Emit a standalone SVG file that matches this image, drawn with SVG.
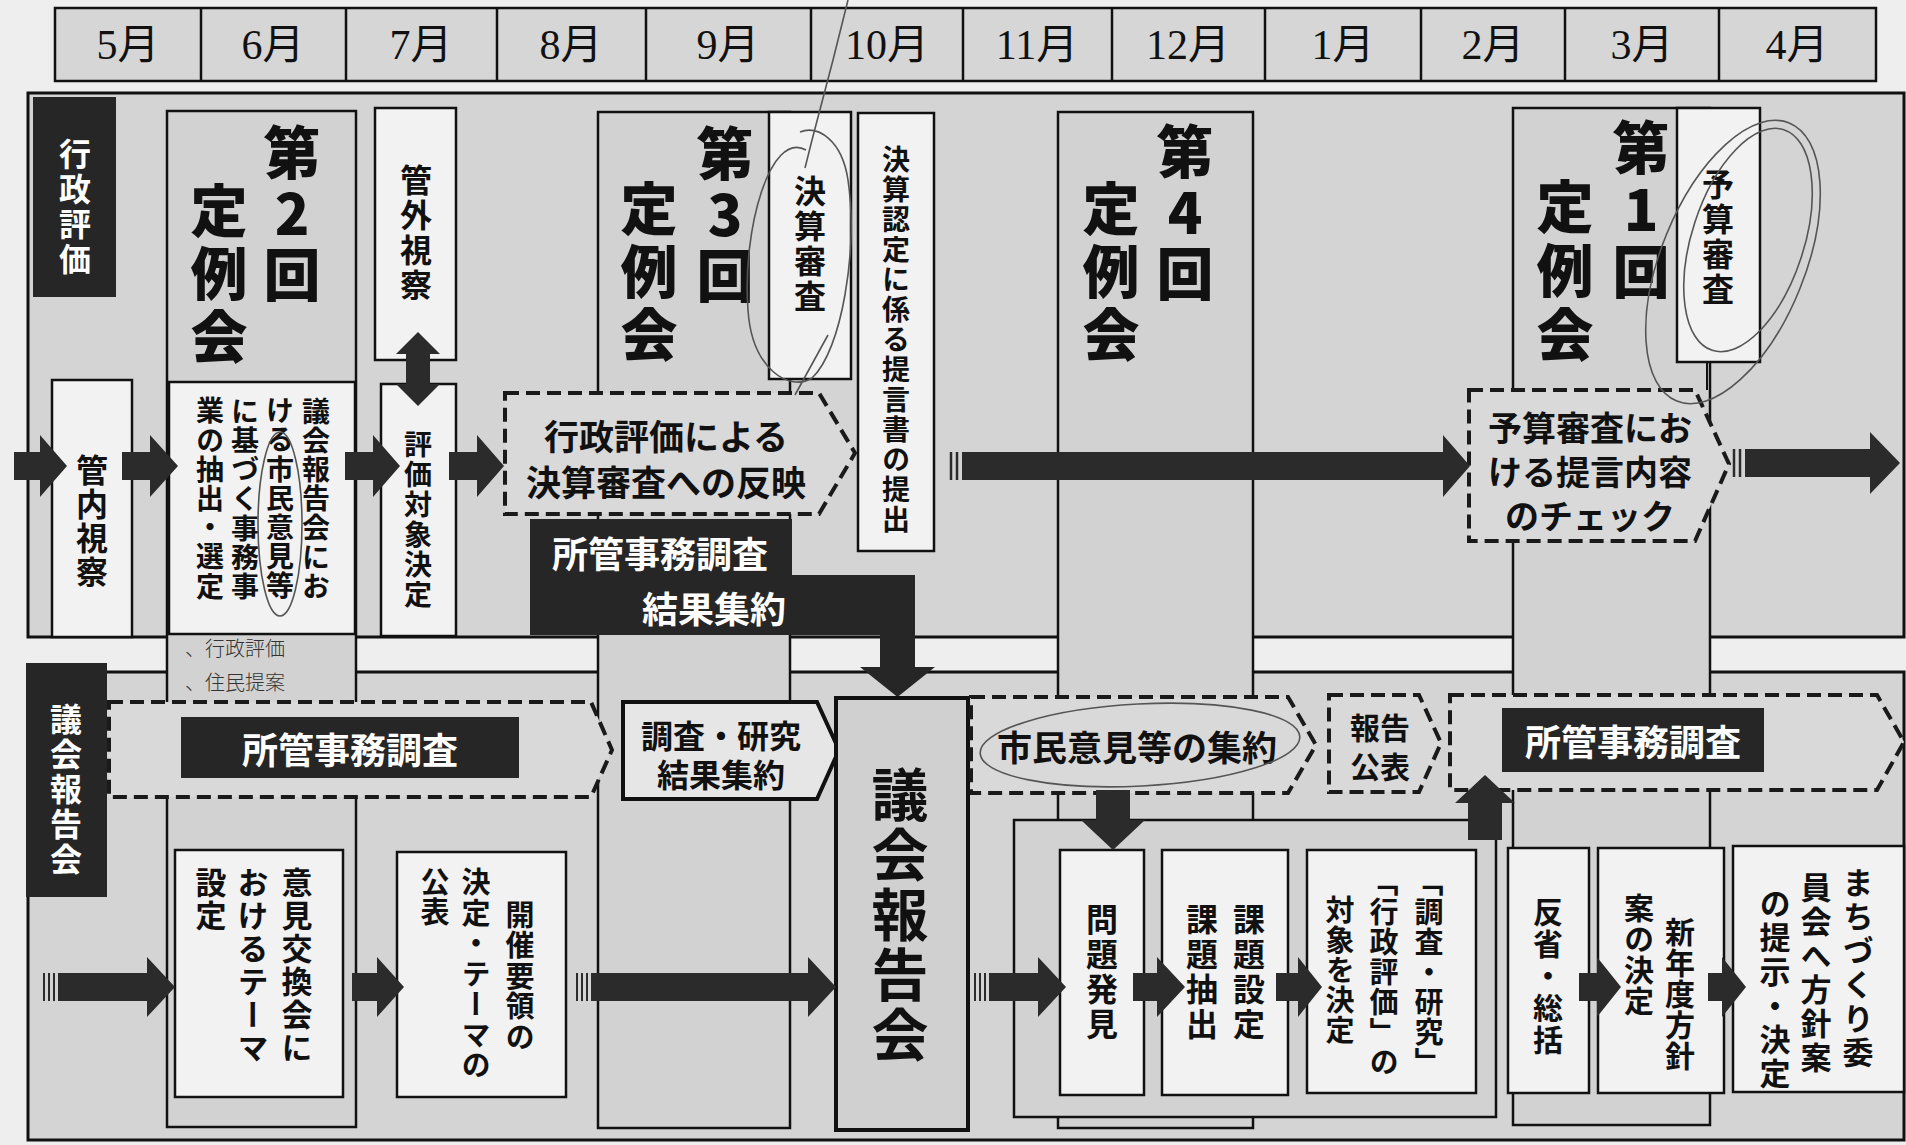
<svg xmlns="http://www.w3.org/2000/svg" width="1906" height="1145" viewBox="0 0 1906 1145">
<style>
.bg{fill:#eeeeee}
.band{fill:#d4d4d4;stroke:#111;stroke-width:3}
.col{fill:#d2d2d2;stroke:#111;stroke-width:2.5}
.box{fill:#f2f2f2;stroke:#111;stroke-width:2.5}
.cell{fill:#d6d6d6;stroke:#111;stroke-width:2.5}
.dash{fill:#d9d9d9;stroke:#1a1a1a;stroke-width:4;stroke-dasharray:14 7}
.solid{fill:#e6e6e6;stroke:#111;stroke-width:4}
.dark{fill:#262626}
.arrow{fill:#2b2b2b}
.t{font-family:"Noto Sans CJK JP","Noto Sans CJK SC",sans-serif;font-weight:700;fill:#111}
.v{writing-mode:vertical-rl}
.up{text-orientation:upright}
.w{fill:#ffffff}
.c{text-anchor:middle;dominant-baseline:central}
.h{font-size:57px;font-weight:900;letter-spacing:4px}
.month{font-family:"Liberation Serif","Noto Sans CJK JP",serif;font-size:42px;fill:#111;text-anchor:middle;dominant-baseline:central}
.pen{fill:none;stroke:#555;stroke-width:1.6}
.hand{font-family:"Noto Sans CJK JP",sans-serif;font-weight:300;font-size:20px;fill:#333}
</style>
<rect class="bg" x="0" y="0" width="1906" height="1145"/>

<g id="month-header">
<rect class="cell" x="55" y="8" width="1821" height="73"/>
<path d="M201 8V81M346 8V81M497 8V81M646 8V81M811 8V81M963 8V81M1112 8V81M1265 8V81M1421 8V81M1565 8V81M1719 8V81" stroke="#111" stroke-width="2.5"/>
<text class="month" x="128" y="45">5月</text>
<text class="month" x="273" y="45">6月</text>
<text class="month" x="421" y="45">7月</text>
<text class="month" x="571" y="45">8月</text>
<text class="month" x="728" y="45">9月</text>
<text class="month" x="887" y="45">10月</text>
<text class="month" x="1037" y="45">11月</text>
<text class="month" x="1188" y="45">12月</text>
<text class="month" x="1343" y="45">1月</text>
<text class="month" x="1493" y="45">2月</text>
<text class="month" x="1642" y="45">3月</text>
<text class="month" x="1797" y="45">4月</text>
</g>

<g id="bands">
<rect class="band" x="28" y="93" width="1876" height="544"/>
<rect class="band" x="28" y="672" width="1876" height="468"/>
</g>

<g id="columns">
<rect class="col" x="167" y="111" width="189" height="1016"/>
<rect class="col" x="598" y="112" width="192" height="1016"/>
<rect class="col" x="1058" y="112" width="195" height="1016"/>
<rect class="col" x="1513" y="108" width="197" height="1017"/>
</g>

<g id="label-gyosei">
<rect class="dark" x="33" y="97" width="83" height="200"/>
<text class="t v w" x="75" y="138" font-size="32" letter-spacing="3">行政評価</text>
</g>
<g id="kannai">
<rect class="box" x="52" y="380" width="80" height="257"/>
<text class="t v" x="92" y="454" font-size="32" letter-spacing="2">管内視察</text>
</g>
<g id="teirei2">
<text class="t v up h"><tspan x="292" y="124">第2回</tspan><tspan x="219" y="182" letter-spacing="6">定例会</tspan></text>
</g>
<g id="chushutsu">
<rect class="box" x="169" y="382" width="186" height="252"/>
<text class="t v" font-size="28" letter-spacing="1.2"><tspan x="316" y="397">議会報告会にお</tspan><tspan x="280" y="397">ける市民意見等</tspan><tspan x="245" y="397">に基づく事務事</tspan><tspan x="210" y="397">業の抽出・選定</tspan></text>
</g>
<g id="kangai">
<rect class="box" x="375" y="108" width="81" height="252"/>
<text class="t v" x="416" y="164" font-size="32" letter-spacing="3">管外視察</text>
</g>
<g id="hyoka-taisho">
<rect class="box" x="381" y="384" width="75" height="252"/>
<text class="t v" x="418" y="430" font-size="28" letter-spacing="2">評価対象決定</text>
</g>
<g id="teirei3">
<text class="t v up h"><tspan x="725" y="125">第3回</tspan><tspan x="649" y="180" letter-spacing="6">定例会</tspan></text>
</g>
<g id="kessan-shinsa">
<rect class="box" x="769" y="112" width="82" height="267"/>
<text class="t v" x="810" y="175" font-size="32" letter-spacing="3">決算審査</text>
</g>
<g id="teigen">
<rect class="box" x="858" y="113" width="76" height="438"/>
<text class="t v" x="896" y="145" font-size="28" letter-spacing="2">決算認定に係る提言書の提出</text>
</g>
<g id="teirei4">
<text class="t v up h"><tspan x="1185" y="123">第4回</tspan><tspan x="1111" y="180" letter-spacing="6">定例会</tspan></text>
</g>
<g id="teirei1">
<text class="t v up h"><tspan x="1641" y="119" letter-spacing="5">第1回</tspan><tspan x="1565" y="178" letter-spacing="7">定例会</tspan></text>
</g>
<g id="yosan-shinsa">
<rect class="box" x="1677" y="108" width="83" height="254"/>
<text class="t v" x="1718" y="168" font-size="32" letter-spacing="3">予算審査</text>
</g>
<g id="hanei">
<path class="dash" d="M505 393H819L855 453L819 514H505Z"/>
<text class="t c" font-size="35"><tspan x="666" y="434">行政評価による</tspan><tspan x="666" y="480">決算審査への反映</tspan></text>
</g>
<g id="check">
<path class="dash" d="M1469 390H1695L1729 464L1695 541H1469Z"/>
<text class="t c" font-size="34"><tspan x="1590" y="426">予算審査にお</tspan><tspan x="1590" y="470">ける提言内容</tspan><tspan x="1590" y="514">のチェック</tspan></text>
</g>
<g id="kekka-shuyaku">
<path class="dark" d="M530 519H792V575H915V667H935L897.5 697L860 667H880V635H530Z"/>
<text class="t c w" font-size="36"><tspan x="660" y="552">所管事務調査</tspan><tspan x="714" y="607">結果集約</tspan></text>
</g>

<g id="label-gikai">
<rect class="dark" x="26" y="663" width="81" height="234"/>
<text class="t v w" x="66" y="703" font-size="32" letter-spacing="3">議会報告会</text>
</g>
<g id="shokan1">
<path class="dash" d="M109 702H591L612 750L591 797H109Z"/>
<rect class="dark" x="181" y="717" width="338" height="61"/>
<text class="t c w" x="350" y="748" font-size="36">所管事務調査</text>
</g>
<g id="chosa-kenkyu">
<path class="solid" d="M623 702H817L839 750L817 799H623Z"/>
<text class="t c" font-size="32"><tspan x="721" y="734">調査・研究</tspan><tspan x="721" y="773">結果集約</tspan></text>
</g>
<g id="theme">
<rect class="box" x="175" y="850" width="168" height="247"/>
<text class="t v" font-size="31" letter-spacing="2"><tspan x="297" y="867">意見交換会に</tspan><tspan x="253" y="867">おけるテーマ</tspan><tspan x="211" y="867">設定</tspan></text>
</g>
<g id="kaisai">
<rect class="box" x="397" y="852" width="169" height="245"/>
<text class="t v" font-size="29" letter-spacing="1.5"><tspan x="520" y="900">開催要領の</tspan><tspan x="476" y="867">決定・テーマの</tspan><tspan x="435" y="867">公表</tspan></text>
</g>
<g id="gikai-hokokukai">
<rect x="836" y="698" width="132" height="432" fill="#d0d0d0" stroke="#111" stroke-width="4"/>
<text class="t v" x="900" y="766" font-size="57" font-weight="900" letter-spacing="3">議会報告会</text>
</g>
<g id="shimin-iken">
<path class="dash" d="M971 697H1288L1316 745L1288 793H971Z"/>
<text class="t c" x="1137" y="745" font-size="35">市民意見等の集約</text>
</g>
<g id="hokoku-kohyo">
<path class="dash" d="M1329 695H1419L1441 743L1419 792H1329Z"/>
<text class="t c" font-size="30"><tspan x="1380" y="726">報告</tspan><tspan x="1380" y="765">公表</tspan></text>
</g>
<g id="shokan2">
<path class="dash" d="M1450 695H1877L1904 742L1877 790H1450Z"/>
<rect class="dark" x="1502" y="708" width="262" height="64"/>
<text class="t c w" x="1633" y="740" font-size="36">所管事務調査</text>
</g>
<g id="container">
<rect class="col" x="1014" y="820" width="482" height="297"/>
</g>
<g id="mondai">
<rect class="box" x="1060" y="850" width="84" height="245"/>
<text class="t v" x="1102" y="903" font-size="32" letter-spacing="3">問題発見</text>
</g>
<g id="kadai">
<rect class="box" x="1162" y="850" width="126" height="245"/>
<text class="t v" font-size="32" letter-spacing="3"><tspan x="1249" y="903">課題設定</tspan><tspan x="1202" y="903">課題抽出</tspan></text>
</g>
<g id="taisho">
<rect class="box" x="1307" y="850" width="169" height="243"/>
<text class="t v" font-size="29" letter-spacing="1"><tspan x="1429" y="867">「調査・研究」</tspan><tspan x="1384" y="867">「行政評価」の</tspan><tspan x="1340" y="895">対象を決定</tspan></text>
</g>
<g id="hansei">
<rect class="box" x="1508" y="848" width="81" height="245"/>
<text class="t v" x="1548" y="897" font-size="30" letter-spacing="2">反省・総括</text>
</g>
<g id="shin-nendo">
<rect class="box" x="1598" y="848" width="126" height="245"/>
<text class="t v" font-size="30" letter-spacing="1"><tspan x="1680" y="917">新年度方針</tspan><tspan x="1639" y="893">案の決定</tspan></text>
</g>
<g id="machizukuri">
<rect class="box" x="1733" y="846" width="171" height="246"/>
<text class="t v" font-size="31" letter-spacing="3"><tspan x="1858" y="867">まちづくり委</tspan><tspan x="1816" y="872">員会へ方針案</tspan><tspan x="1775" y="888">の提示・決定</tspan></text>
</g>

<g id="connectors">
<path d="M790 379V393M1707 362V390" stroke="#111" stroke-width="2"/>
<path class="arrow" d="M14 452H40V435L67 466L40 497V480H14Z"/>
<path class="arrow" d="M122 452H150V435L178 466L150 497V480H122Z"/>
<path class="arrow" d="M345 452H373V435L400 466L373 497V480H345Z"/>
<path class="arrow" d="M449 452H477V435L504 466L477 497V480H449Z"/>
<path class="arrow" d="M406 354V384H396L418 406L440 384H430V354H440L418 332L396 354Z"/>
<path class="arrow" d="M962 452H1443V435L1470 466L1443 497V480H962Z"/>
<path d="M951 452V480M957 452V480" stroke="#2b2b2b" stroke-width="2.5"/>
<path class="arrow" d="M1745 449H1870V432L1900 463L1870 494V477H1745Z"/>
<path d="M1734 449V477M1740 449V477" stroke="#2b2b2b" stroke-width="2.5"/>
<path class="arrow" d="M58 973H147V957L175 987L147 1017V1001H58Z"/>
<path d="M44 973V1001M49 973V1001M54 973V1001" stroke="#2b2b2b" stroke-width="2"/>
<path class="arrow" d="M352 973H377V957L404 987L377 1017V1001H352Z"/>
<path class="arrow" d="M591 973H808V957L836 987L808 1017V1001H591Z"/>
<path d="M577 973V1001M582 973V1001M587 973V1001" stroke="#2b2b2b" stroke-width="2"/>
<path class="arrow" d="M989 973H1038V957L1066 987L1038 1017V1001H989Z"/>
<path d="M975 973V1001M980 973V1001M985 973V1001" stroke="#2b2b2b" stroke-width="2"/>
<path class="arrow" d="M1133 973H1157V957L1185 987L1157 1017V1001H1133Z"/>
<path class="arrow" d="M1276 973H1298V957L1322 987L1298 1017V1001H1276Z"/>
<path class="arrow" d="M1579 973H1597V957L1621 987L1597 1017V1001H1579Z"/>
<path class="arrow" d="M1708 973H1722V957L1746 987L1722 1017V1001H1708Z"/>
<path class="arrow" d="M1096 790V820H1081L1113 850L1145 820H1130V790Z"/>
<path class="arrow" d="M1468 840V803H1455L1485 775L1515 803H1502V840Z"/>
</g>

<g id="pen-marks">
<ellipse class="pen" cx="280" cy="524" rx="22" ry="92"/>
<path class="pen" d="M848 0L833 60L812 140L805 168M806 150C770 130 742 230 748 310C752 370 790 392 812 378C842 350 858 250 848 180C842 140 818 125 800 132M828 335L795 395"/>
<ellipse class="pen" cx="1733" cy="262" rx="72" ry="150" transform="rotate(22 1733 262)"/>
<ellipse class="pen" cx="1748" cy="240" rx="56" ry="116" transform="rotate(18 1748 240)"/>
<ellipse class="pen" cx="1140" cy="745" rx="160" ry="41" transform="rotate(-3 1140 745)"/>
<text class="hand" x="185" y="656">、行政評価</text>
<text class="hand" x="185" y="690">、住民提案</text>
</g>
</svg>
